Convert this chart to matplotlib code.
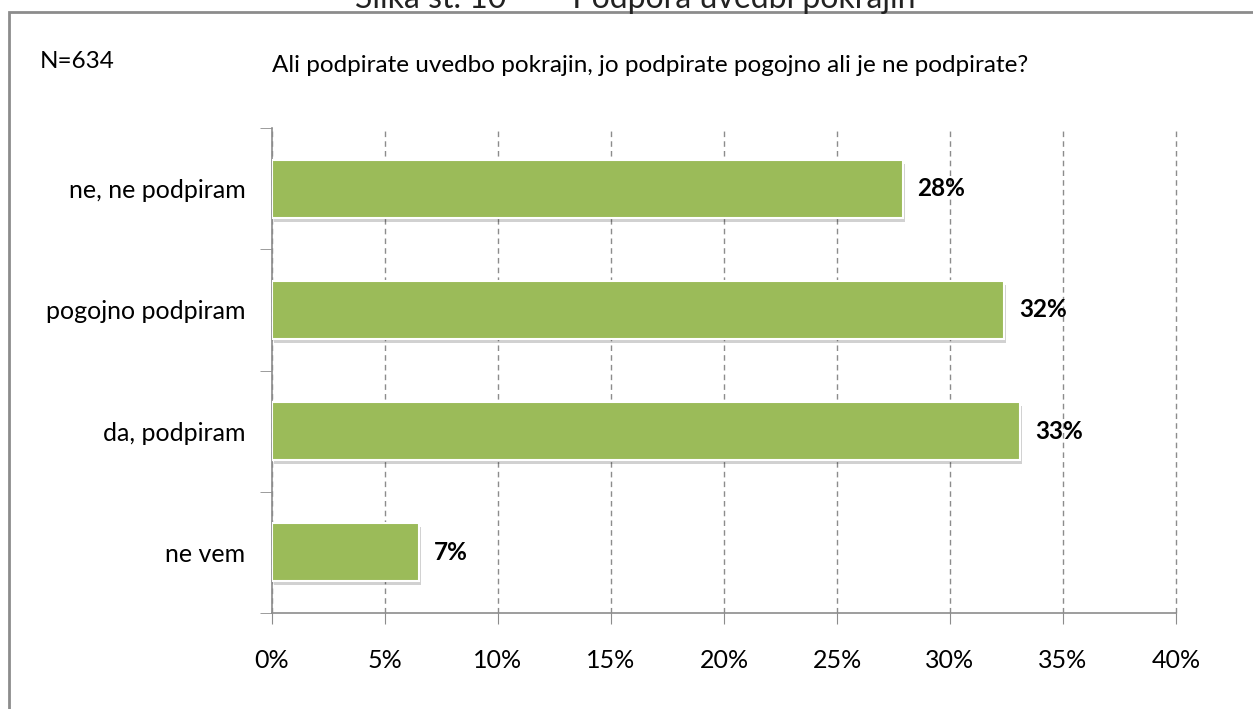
import matplotlib
matplotlib.use("Agg")
import matplotlib.pyplot as plt
from matplotlib.patches import Rectangle
import matplotlib.transforms as mtransforms

categories = ["ne vem", "da, podpiram", "pogojno podpiram", "ne, ne podpiram"]
values = [6.5, 33.1, 32.4, 27.9]
labels = ["7%", "33%", "32%", "28%"]
xticks = [0, 5, 10, 15, 20, 25, 30, 35, 40]
xticklabels = ["0%", "5%", "10%", "15%", "20%", "25%", "30%", "35%", "40%"]

plt.rcParams['font.family'] = ['Lato', 'DejaVu Sans']

W, H = 1253, 709
fig = plt.figure(figsize=(W / 100, H / 100), dpi=100)

# outer frame
fig.patches.append(Rectangle((9 / W, -0.05), 1.2, (H - 12) / H + 0.05, transform=fig.transFigure,
                             fill=False, edgecolor="#8c8c8c", linewidth=2))
fig.text(635 / W, 709 / H + 0.002, "Slika št. 10        Podpora uvedbi pokrajin", ha="center", va="center",
         fontsize=23, color="#222222")

ax = fig.add_axes([272 / W, 1 - 613 / H, (1176 - 272) / W, (613 - 128) / H])
ax.set_xlim(0, 40)
ax.set_ylim(-0.5, 3.5)

y = list(range(len(categories)))
shadow = mtransforms.offset_copy(ax.transData, fig=fig, x=2, y=-4, units="dots")
for i, v in enumerate(values):
    ax.barh(y[i], v, height=0.48, color="#000000", alpha=0.18, transform=shadow, zorder=2, linewidth=0)
    ax.barh(y[i], v, height=0.48, color="#9bbb59", edgecolor="white", linewidth=1.5, zorder=3)
    ax.text(v + 0.65, y[i], labels[i], va="center", ha="left", fontsize=17.5, fontweight="bold", color="black", zorder=4)

ax.set_xticks(xticks)
ax.set_xticklabels(xticklabels, fontsize=18)
ax.set_yticks(y)
ax.set_yticklabels(categories, fontsize=18)
ax.tick_params(axis="y", length=0, pad=19)
ax.tick_params(axis="x", length=8, color="#8c8c8c", pad=18, direction="out")
ax.set_yticks([-0.5, 0.5, 1.5, 2.5, 3.5], minor=True)
ax.tick_params(axis="y", which="minor", length=9, color="#8c8c8c")

ax.grid(axis="x", linestyle=(0, (4, 3)), color="#8c8c8c", linewidth=1, zorder=0)
for gl in ax.get_xgridlines():
    gl.set_clip_on(False)
ax.set_axisbelow(True)
for s in ["top", "right"]:
    ax.spines[s].set_visible(False)
for s in ["left", "bottom"]:
    ax.spines[s].set_color("#8c8c8c")
    ax.spines[s].set_linewidth(1.2)

fig.text(40 / W, 1 - 62 / H, "N=634", fontsize=17.5, va="center", ha="left")
fig.text(272 / W, 1 - 66 / H, "Ali podpirate uvedbo pokrajin, jo podpirate pogojno ali je ne podpirate?",
         fontsize=17.5, va="center", ha="left")

fig.savefig("out.png", dpi=100)
